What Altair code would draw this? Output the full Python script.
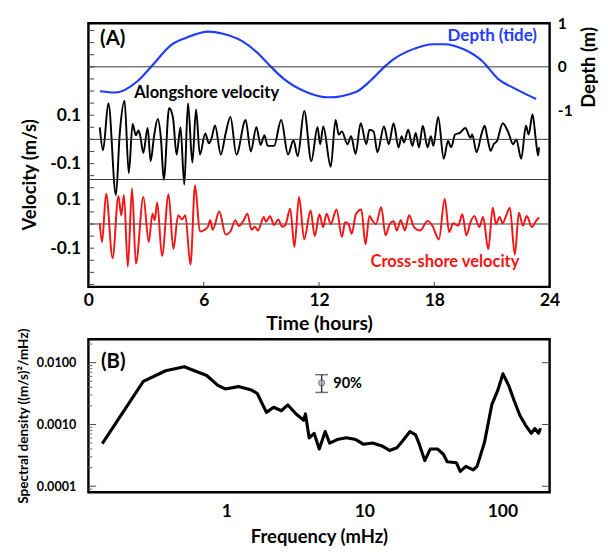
import altair as alt
import pandas as pd

FONT = "Lato"
BLUE = "#1f3cff"
RED = "#f41414"

# ---------------- Panel A data ----------------
depth_t = [0.6, 1.4, 2.55, 3.3, 4.3, 5.1, 6.25, 7.0, 8.0, 8.8, 9.5, 10.15, 11.3, 12.5,
           13.95, 14.7, 15.4, 15.8, 16.8, 17.95, 18.5, 19.5, 20.5, 21.3, 22.2, 23.3]
depth_m = [-0.56, -0.59, -0.33, 0.02, 0.5, 0.67, 0.81, 0.76, 0.59, 0.32, 0.0, -0.27, -0.57, -0.70,
           -0.57, -0.31, 0.0, 0.15, 0.39, 0.52, 0.52, 0.41, 0.13, -0.27, -0.5, -0.74]

along_t = [0.59, 0.76, 1.04, 1.43, 1.63, 1.88, 2.10, 2.30, 2.47, 2.60, 2.69, 2.86, 3.08, 3.24,
           3.41, 3.61, 3.78, 3.92, 4.20, 4.40, 4.59, 4.79, 4.99, 5.18, 5.41, 5.60, 5.80, 6.08,
           6.27, 6.39, 6.59, 6.89, 7.14, 7.39, 7.70, 8.18, 8.45, 8.74, 8.96, 9.16, 9.33, 9.66,
           10.03, 10.39, 10.67, 10.89, 11.23, 11.60, 11.92, 12.06, 12.22, 12.61, 12.86, 13.03,
           13.19, 13.48, 13.67, 13.90, 14.17, 14.46, 14.62, 14.84, 15.04, 15.38, 15.63, 15.88,
           16.14, 16.30, 16.42, 16.64, 16.86, 17.03, 17.20, 17.40, 17.65, 17.82, 17.95, 18.20,
           18.49, 18.71, 18.88, 19.08, 19.33, 19.61, 19.88, 19.97, 20.20, 20.45, 20.62, 20.76,
           20.93, 21.09, 21.26, 21.56, 21.85, 22.10, 22.27, 22.52, 22.77, 22.91, 23.11, 23.28,
           23.40, 23.45]
along_v = [0.05, -0.045, 0.15, -0.23, 0.024, 0.16, -0.14, 0.064, 0.017, 0.037, 0.017, -0.056, 0.047, -0.09,
           0.01, 0.084, -0.003, -0.167, 0.13, 0.09, -0.063, 0.05, -0.187, 0.15, -0.096, 0.124, -0.063, 0.024,
           -0.016, 0.0, 0.057, -0.063, 0.024, 0.093, -0.063, 0.08, -0.05, 0.05, -0.023, 0.017, -0.027, -0.027,
           0.08, -0.063, -0.003, -0.07, 0.117, -0.09, 0.05, -0.02, 0.053, -0.113, 0.08, 0.02,
           0.033, -0.02, 0.013, -0.06, 0.067, -0.02, 0.04, 0.033, -0.053, 0.053, -0.02, 0.067,
           -0.033, 0.013, -0.013, 0.04, -0.027, 0.027, -0.033, 0.056, -0.033, 0.013, -0.027, 0.093,
           -0.08, -0.007, -0.033, 0.02, 0.027, 0.047, 0.007, 0.02, -0.053, 0.02, 0.056, 0.007,
           -0.047, -0.02, -0.007, 0.067, 0.029, -0.02, 0.0, -0.08, 0.056, 0.02, 0.104, 0.0,
           -0.067, -0.033]

cross_t = [0.59, 0.71, 0.92, 1.26, 1.56, 1.71, 1.85, 2.05, 2.27, 2.47, 2.86, 3.14, 3.33, 3.45,
           3.58, 3.83, 4.17, 4.42, 4.67, 4.87, 5.04, 5.31, 5.55, 5.80, 6.05, 6.22, 6.34, 6.47,
           6.81, 7.14, 7.39, 7.65, 7.82, 8.07, 8.27, 8.49, 8.66, 8.82, 9.13, 9.24, 9.45, 9.66,
           9.88, 10.08, 10.25, 10.50, 10.72, 10.96, 11.23, 11.56, 11.78, 12.02, 12.22, 12.39,
           12.61, 12.91, 13.19, 13.36, 13.53, 13.70, 13.92, 14.20, 14.42, 14.62, 14.79, 14.96,
           15.24, 15.46, 15.68, 15.88, 16.05, 16.25, 16.47, 16.69, 16.94, 17.26, 17.65, 17.90,
           18.24, 18.54, 18.77, 18.99, 19.24, 19.46, 19.67, 19.88, 20.08, 20.34, 20.54, 20.81,
           21.04, 21.21, 21.40, 21.56, 21.73, 21.93, 22.19, 22.40, 22.61, 22.81, 23.08, 23.28,
           23.45]
cross_v = [0.003, -0.075, 0.125, -0.141, 0.116, 0.036, 0.12, -0.177, 0.147, -0.164, 0.112, -0.075, 0.043, 0.016,
           0.089, -0.133, 0.123, -0.104, 0.036, 0.019, 0.036, -0.168, 0.16, -0.031, -0.024, -0.011, 0.016, -0.024,
           0.052, -0.044, -0.031, 0.016, -0.008, 0.013, 0.043, -0.024, -0.011, -0.027, 0.029, 0.009, 0.032, -0.004,
           0.019, -0.011, -0.004, 0.063, -0.095, 0.112, -0.064, 0.056, -0.05, 0.04, -0.013, 0.043,
           0.0, 0.06, -0.053, 0.007, 0.0, -0.04, 0.04, 0.06, -0.084, 0.033, 0.013, 0.0,
           0.069, -0.047, 0.0, 0.011, -0.027, 0.016, -0.027, 0.036, -0.013, -0.027, 0.013, -0.007,
           -0.064, 0.104, -0.033, 0.003, -0.007, 0.04, -0.047, 0.007, 0.033, -0.013, 0.029, -0.104,
           0.067, 0.0, 0.029, 0.003, 0.033, 0.067, -0.127, 0.047, -0.007, 0.033, -0.013, 0.011,
           0.027]

time_ticks = [0, 6, 12, 18, 24]

# ---------------- Panel B data ----------------
freq = [0.126, 0.25, 0.363, 0.495, 0.72, 0.867, 0.98, 1.22, 1.52, 1.67, 1.95, 2.2, 2.5, 2.79,
        3.2, 3.63, 3.74, 3.98, 4.32, 4.71, 5.2, 5.6, 6.35, 7.4, 8.67, 9.8, 11.5, 13.4, 15.2,
        17.2, 18.9, 21.4, 23.5, 25.0, 27.4, 30.0, 34.0, 37.4, 39.8, 46.5, 49.5, 54.4, 61.5,
        65.5, 74.0, 84.0, 92.0, 101.0, 111.0, 122.0, 134.0, 147.0, 162.0, 172.0, 183.0, 189.0]
spec = [0.00049, 0.005, 0.0074, 0.0086, 0.0062, 0.0043, 0.00376, 0.0041, 0.0036, 0.0032, 0.00157,
        0.0019, 0.00167, 0.00207, 0.00148, 0.00117, 0.00148, 0.000605, 0.00072, 0.0004, 0.00077,
        0.0005, 0.00057, 0.00061, 0.00057, 0.00048, 0.0005, 0.00045, 0.00038, 0.00042, 0.00054,
        0.00077, 0.00068, 0.00048, 0.00026, 0.0004, 0.0004, 0.00033, 0.00025, 0.00024, 0.000174,
        0.00021, 0.000184, 0.00021, 0.0005, 0.00212, 0.00342, 0.0066, 0.0043, 0.0024, 0.0014,
        0.00098, 0.00072, 0.00086, 0.00072, 0.00087]

freq_ticks = [1, 10, 100]
spec_ticks = [0.0001, 0.001, 0.01]
spec_minor = [0.00009, 0.0002, 0.0003, 0.0004, 0.0005, 0.0006, 0.0007, 0.0008, 0.0009,
              0.002, 0.003, 0.004, 0.005, 0.006, 0.007, 0.008, 0.009, 0.02]

err_f = [4.9]
err_lo = [0.0033]
err_hi = [0.0064]
err_mid = [0.0047]

# ---------------- geometry ----------------
W = 476
HA = 272
HB = 158
GAP = 54
Y_DOM = [-0.26, 0.83]
ALONG_OFF = 0.35
SEP_Y = 0.184
D_OFF, D_SCALE = 0.65, 0.18
DEPTH_DOM = [(Y_DOM[0] - D_OFF) / D_SCALE, (Y_DOM[1] - D_OFF) / D_SCALE]
vel_ticks = [-0.25, -0.2, -0.15, -0.1, -0.05, 0.0, 0.05, 0.1, 0.15, 0.2, 0.25, 0.3, 0.35,
             0.4, 0.45, 0.5, 0.55, 0.6, 0.65, 0.7, 0.75, 0.8]

along_df = pd.DataFrame({"t": along_t, "y": [v + ALONG_OFF for v in along_v]})
cross_df = pd.DataFrame({"t": cross_t, "y": cross_v})
depth_df = pd.DataFrame({"t": depth_t, "d": depth_m})

xscaleA = alt.Scale(domain=[0, 24], nice=False, zero=False)
yscaleA = alt.Scale(domain=Y_DOM, nice=False, zero=False)

axis_xA = alt.Axis(
    values=time_ticks, title="Time (hours)", ticks=False, domain=False, grid=False,
    labelFontSize=18, labelFontWeight="bold", labelPadding=5, labelFlush=False,
    labelColor="black", titleColor="black",
    titleFontSize=20, titleFontWeight="bold", titlePadding=5)
axis_yA = alt.Axis(
    values=[-0.1, 0.1, 0.25, 0.45],
    labelExpr="(abs(datum.value - 0.1) < 0.01 || abs(datum.value - 0.45) < 0.01) ? '0.1' : '-0.1'",
    title="Velocity (m/s)", ticks=False, domain=False, grid=False,
    labelFontSize=18, labelFontWeight="bold", labelPadding=8, labelColor="black",
    titleColor="black", titleFontSize=19, titleFontWeight="bold", titlePadding=11, titleY=156)


def xA():
    return alt.X("t:Q", scale=xscaleA, axis=axis_xA)


def yA():
    return alt.Y("y:Q", scale=yscaleA, axis=axis_yA)


along_line = alt.Chart(along_df).mark_line(color="black", strokeWidth=2, interpolate="monotone").encode(x=xA(), y=yA())
cross_line = alt.Chart(cross_df).mark_line(color=RED, strokeWidth=2, interpolate="monotone").encode(x=xA(), y=yA())

ref_df = pd.DataFrame({"y": [0.0, ALONG_OFF, SEP_Y]})
ref_rules = alt.Chart(ref_df).mark_rule(color="#333333", strokeWidth=1).encode(y=yA())

vt_df = pd.DataFrame({"y": vel_ticks})
vel_inticks = alt.Chart(vt_df).mark_rule(color="#444444", strokeWidth=1).encode(
    y=yA(), x=alt.value(0), x2=alt.value(6))

tt_df = pd.DataFrame({"t": time_ticks[1:-1]})
time_inticks = alt.Chart(tt_df).mark_rule(color="#444444", strokeWidth=1).encode(
    x=xA(), y=alt.value(HA), y2=alt.value(HA - 5))


def label(txt, x, y, size, color, align):
    return alt.Chart(pd.DataFrame({"a": [0]})).mark_text(
        text=txt, font=FONT, fontSize=size, fontWeight="bold", align=align, baseline="middle", color=color
    ).encode(x=alt.value(x), y=alt.value(y))


lab_A = label("(A)", 12, 16, 21, "black", "left")
lab_depth = label("Depth (tide)", 463, 13, 17.5, BLUE, "right")
lab_along = label("Alongshore velocity", 122, 72, 17, "black", "center")
lab_cross = label("Cross-shore velocity", 368, 246, 17, RED, "center")

vel_group = alt.layer(along_line, ref_rules, vel_inticks, time_inticks, cross_line,
                      lab_A, lab_depth, lab_along, lab_cross)

dscale = alt.Scale(domain=DEPTH_DOM, nice=False, zero=False)
axis_d = alt.Axis(
    orient="right", values=[-1, 0, 1],
    labelExpr="datum.value < 0 ? '-1' : (datum.value > 0 ? '1' : '0')",
    title="Depth (m)", ticks=False, domain=False, grid=False,
    labelFontSize=16, labelFontWeight="bold", labelPadding=8, labelColor="black",
    titleColor="black", titleFontSize=19, titleFontWeight="bold", titlePadding=8,
    titleAngle=270, titleBaseline="top", titleY=45)
depth_line = alt.Chart(depth_df).mark_line(color=BLUE, strokeWidth=2.2, interpolate="monotone").encode(
    x=xA(), y=alt.Y("d:Q", scale=dscale, axis=axis_d))
depth_zero = alt.Chart(pd.DataFrame({"d": [0.0]})).mark_rule(color="#333333", strokeWidth=1).encode(
    y=alt.Y("d:Q", scale=dscale, axis=axis_d))
depth_group = alt.layer(depth_line, depth_zero)

panelA = alt.layer(vel_group, depth_group).resolve_scale(y="independent").properties(width=W, height=HA)

# ---------------- Panel B ----------------
spec_df = pd.DataFrame({"f": freq, "s": spec})
xscaleB = alt.Scale(type="log", domain=[0.1, 220], nice=False)
yscaleB = alt.Scale(type="log", domain=[0.00008, 0.024], nice=False)

axis_xB = alt.Axis(
    values=freq_ticks, format=".0f", title="Frequency (mHz)", ticks=False, domain=False, grid=False,
    labelFontSize=18, labelFontWeight="bold", labelPadding=11, labelColor="black", labelFlush=False,
    titleColor="black", titleFontSize=19, titleFontWeight="bold", titlePadding=8)
axis_yB = alt.Axis(
    values=spec_ticks, format=".4f", title="Spectral density ((m/s)²/mHz)", ticks=False, domain=False,
    grid=False, labelFontSize=13, labelFontWeight="bold", labelPadding=13, labelColor="black",
    titleColor="black", titleFontSize=14, titleFontWeight="bold", titlePadding=6)


def xB(field="f"):
    return alt.X(f"{field}:Q", scale=xscaleB, axis=axis_xB)


def yB(field="s"):
    return alt.Y(f"{field}:Q", scale=yscaleB, axis=axis_yB)


spec_line = alt.Chart(spec_df).mark_line(color="black", strokeWidth=3.2, strokeJoin="round").encode(x=xB(), y=yB())

major_df = pd.DataFrame({"s": spec_ticks})
minor_df = pd.DataFrame({"s": spec_minor})
left_major = alt.Chart(major_df).mark_rule(color="#444444", strokeWidth=1).encode(
    y=yB(), x=alt.value(0), x2=alt.value(8))
left_minor = alt.Chart(minor_df).mark_rule(color="#666666", strokeWidth=1).encode(
    y=yB(), x=alt.value(0), x2=alt.value(4))
right_major = alt.Chart(major_df).mark_rule(color="#444444", strokeWidth=1).encode(
    y=yB(), x=alt.value(W - 8), x2=alt.value(W))

err_df = pd.DataFrame({"f": err_f, "lo": err_lo, "hi": err_hi, "s": err_mid})
err_rule = alt.Chart(err_df).mark_rule(color="#333333", strokeWidth=1.5).encode(
    x=xB(), y=yB("lo"), y2="hi:Q")
err_cap_lo = alt.Chart(err_df).mark_tick(color="#333333", orient="horizontal", size=13, thickness=1.5).encode(
    x=xB(), y=yB("lo"))
err_cap_hi = alt.Chart(err_df).mark_tick(color="#333333", orient="horizontal", size=13, thickness=1.5).encode(
    x=xB(), y=yB("hi"))
err_pt = alt.Chart(err_df).mark_point(shape="circle", size=40, filled=True, color="#aaaaaa",
                                      stroke="#333333", strokeWidth=1).encode(x=xB(), y=yB())
err_txt = alt.Chart(err_df).mark_text(text="90%", font=FONT, fontSize=15, fontWeight="bold", align="left",
                                      baseline="middle", dx=12, color="black").encode(x=xB(), y=yB())

lab_B = label("(B)", 13, 24, 21, "black", "left")

panelB = alt.layer(spec_line, left_major, left_minor, right_major, err_rule, err_cap_lo, err_cap_hi,
                   err_pt, err_txt, lab_B).properties(width=W, height=HB)

chart = alt.vconcat(panelA, panelB, spacing=GAP, bounds="flush").properties(
    padding={"left": 7, "top": -3, "right": 0, "bottom": 0}
).configure(font=FONT).configure_view(stroke="black", strokeWidth=2.5)

chart.save("out.html", embed_options={"renderer": "svg", "actions": False})
